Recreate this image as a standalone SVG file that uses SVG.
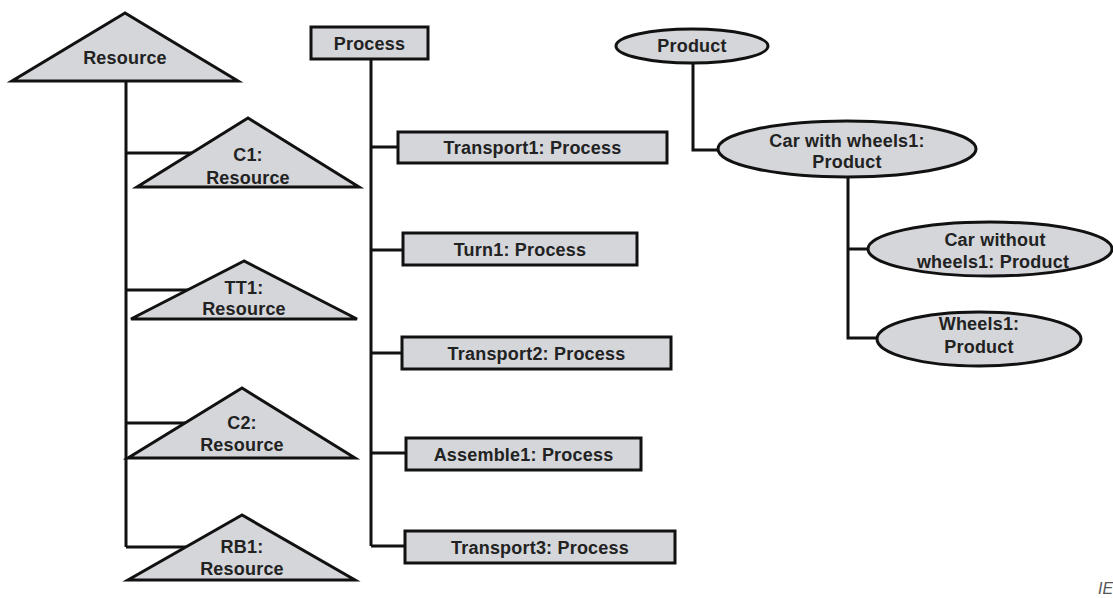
<svg xmlns="http://www.w3.org/2000/svg" width="1113" height="598" viewBox="0 0 1113 598">
<style>
.n{fill:#d4d6da;stroke:#111;stroke-width:3;stroke-linejoin:miter}
.t{font-family:"Liberation Sans",Arial,sans-serif;font-weight:bold;font-size:18px;fill:#222;text-anchor:middle;letter-spacing:0.2px}
.c{fill:none;stroke:#111;stroke-width:3}
.w{font-family:"Liberation Sans",Arial,sans-serif;font-style:italic;font-size:16px;fill:#555}
</style>
<rect width="1113" height="598" fill="#fff"/>
<g id="connectors">
<path class="c" d="M126 81V547M126 153H192M126 290H188M126 423H185M126 547H186"/>
<path class="c" d="M371 59V546M371 147H398M371 250H403M371 353H402M371 453H406M371 546H405"/>
<path class="c" d="M693 63V150H718M848 178V338H877M848 249H868"/>
</g>
<g id="resource">
<polygon class="n" points="125,13 12,81 238,81"/>
<text class="t" x="125" y="64">Resource</text>
</g>
<g id="c1">
<polygon class="n" points="248,118 137,187 359,187"/>
<text class="t" x="248" y="161">C1:</text>
<text class="t" x="248" y="184">Resource</text>
</g>
<g id="tt1">
<polygon class="n" points="244,261 131,319 357,319"/>
<text class="t" x="244" y="294">TT1:</text>
<text class="t" x="244" y="315">Resource</text>
</g>
<g id="c2">
<polygon class="n" points="242,388 128,458 355,458"/>
<text class="t" x="242" y="429">C2:</text>
<text class="t" x="242" y="451">Resource</text>
</g>
<g id="rb1">
<polygon class="n" points="242,515 128,580 355,580"/>
<text class="t" x="242" y="553">RB1:</text>
<text class="t" x="242" y="575">Resource</text>
</g>
<g id="process">
<rect class="n" x="311" y="27" width="117" height="32"/>
<text class="t" x="369.5" y="50">Process</text>
</g>
<g id="transport1">
<rect class="n" x="398" y="132" width="269" height="31"/>
<text class="t" x="532.5" y="154">Transport1: Process</text>
</g>
<g id="turn1">
<rect class="n" x="403" y="233" width="234" height="32"/>
<text class="t" x="520" y="256">Turn1: Process</text>
</g>
<g id="transport2">
<rect class="n" x="402" y="337" width="269" height="32"/>
<text class="t" x="536.5" y="360">Transport2: Process</text>
</g>
<g id="assemble1">
<rect class="n" x="406" y="438" width="235" height="32"/>
<text class="t" x="523.5" y="461">Assemble1: Process</text>
</g>
<g id="transport3">
<rect class="n" x="405" y="531" width="270" height="32"/>
<text class="t" x="540" y="554">Transport3: Process</text>
</g>
<g id="product">
<ellipse class="n" cx="692" cy="46" rx="76" ry="17"/>
<text class="t" x="692" y="52">Product</text>
</g>
<g id="carwithwheels1">
<ellipse class="n" cx="847" cy="149" rx="129" ry="28"/>
<text class="t" x="847" y="147">Car with wheels1:</text>
<text class="t" x="847" y="168">Product</text>
</g>
<g id="carwithoutwheels1">
<ellipse class="n" cx="990" cy="249" rx="122" ry="27"/>
<text class="t" x="995" y="246">Car without</text>
<text class="t" x="993" y="268">wheels1: Product</text>
</g>
<g id="wheels1">
<ellipse class="n" cx="979" cy="339" rx="102" ry="27"/>
<text class="t" x="979" y="330">Wheels1:</text>
<text class="t" x="979" y="353">Product</text>
</g>
<text class="w" x="1098" y="594">IE</text>
</svg>
